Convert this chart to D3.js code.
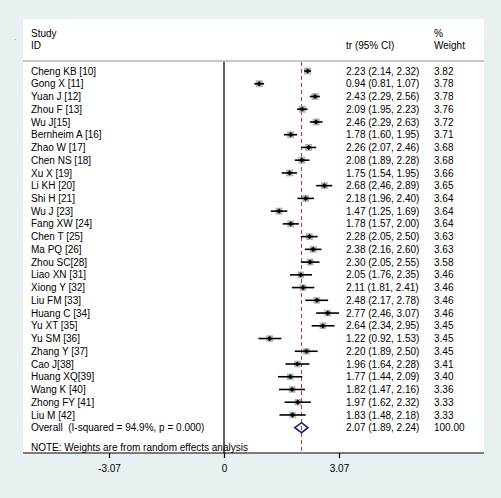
<!DOCTYPE html>
<html><head><meta charset="utf-8">
<script src="https://cdn.jsdelivr.net/npm/d3@7"></script>
<style>
html,body{margin:0;padding:0;background:#e9f0f2;}
svg{display:block;font-family:"Liberation Sans",Arial,sans-serif;}
</style></head>
<body>
<script>
const studies = ["Cheng KB [10]","Gong X [11]","Yuan J [12]","Zhou F [13]","Wu J[15]","Bernheim A [16]","Zhao W [17]","Chen NS [18]","Xu X [19]","Li KH [20]","Shi H [21]","Wu J [23]","Fang XW [24]","Chen T [25]","Ma PQ [26]","Zhou SC[28]","Liao XN [31]","Xiong Y [32]","Liu FM [33]","Huang C [34]","Yu XT [35]","Yu SM [36]","Zhang Y [37]","Cao J[38]","Huang XQ[39]","Wang K [40]","Zhong FY [41]","Liu M [42]"];
const est = [2.23,0.94,2.43,2.09,2.46,1.78,2.26,2.08,1.75,2.68,2.18,1.47,1.78,2.28,2.38,2.30,2.05,2.11,2.48,2.77,2.64,1.22,2.20,1.96,1.77,1.82,1.97,1.83];
const lower = [2.14,0.81,2.29,1.95,2.29,1.60,2.07,1.89,1.54,2.46,1.96,1.25,1.57,2.05,2.16,2.05,1.76,1.81,2.17,2.46,2.34,0.92,1.89,1.64,1.44,1.47,1.62,1.48];
const upper = [2.32,1.07,2.56,2.23,2.63,1.95,2.46,2.28,1.95,2.89,2.40,1.69,2.00,2.50,2.60,2.55,2.35,2.41,2.78,3.07,2.95,1.53,2.50,2.28,2.09,2.16,2.32,2.18];
const weights = ["3.82","3.78","3.78","3.76","3.72","3.71","3.68","3.68","3.66","3.65","3.64","3.64","3.64","3.63","3.63","3.58","3.46","3.46","3.46","3.46","3.45","3.45","3.45","3.41","3.40","3.36","3.33","3.33"];
const overall = {label:"Overall  (I-squared = 94.9%, p = 0.000)", est:2.07, lo:1.89, hi:2.24, weight:"100.00"};
const ticks = [-3.07, 0, 3.07];
const tickLabels = ["-3.07", "0", "3.07"];

(function(){
const W=501,H=498;
const svg=d3.select("body").append("svg").attr("width",W).attr("height",H);
const fs=10;
const x=d3.scaleLinear().domain([-3.07,3.07]).range([109,339]);
const y=d3.scaleLinear().domain([0,studies.length]).range([71,427.7]);
const pL=23,pR=484,pT=19,axisY=453;

svg.append("rect").attr("width",W).attr("height",H).attr("fill","#e9f0f2");
svg.append("rect").attr("x",pL).attr("y",pT).attr("width",pR-pL).attr("height",axisY-pT).attr("fill","#fff");
svg.append("text").attr("x",14).attr("y",40).attr("font-size",8).attr("fill","#777").text(".");

const hdr=svg.append("g").attr("font-size",fs).attr("fill","#000");
hdr.append("text").attr("x",31).attr("y",36.5).text("Study");
hdr.append("text").attr("x",31).attr("y",48.5).text("ID");
hdr.append("text").attr("x",346).attr("y",48.5).text("tr (95% CI)");
hdr.append("text").attr("x",434).attr("y",36.5).text("%");
hdr.append("text").attr("x",434).attr("y",48.5).text("Weight");
svg.append("line").attr("x1",pL).attr("x2",pR).attr("y1",61).attr("y2",61).attr("stroke","#c8c8c8").attr("stroke-width",2);

svg.append("line").attr("x1",x(0)).attr("x2",x(0)).attr("y1",62).attr("y2",axisY).attr("stroke","#000").attr("stroke-width",1.2);
svg.append("line").attr("x1",x(overall.est)).attr("x2",x(overall.est)).attr("y1",62).attr("y2",axisY).attr("stroke","#b03838").attr("stroke-width",1).attr("stroke-dasharray","4,3");

const rows=svg.append("g");
studies.forEach((s,i)=>{
  const yy=y(i);
  rows.append("text").attr("x",31).attr("y",yy+3.6).attr("font-size",fs).text(s);
  rows.append("text").attr("x",346).attr("y",yy+3.6).attr("font-size",fs).text(`${est[i].toFixed(2)} (${lower[i].toFixed(2)}, ${upper[i].toFixed(2)})`);
  rows.append("text").attr("x",434).attr("y",yy+3.6).attr("font-size",fs).text(weights[i]);
  const sz=Math.sqrt(+weights[i])*3.6;
  rows.append("rect").attr("x",x(est[i])-sz/2).attr("y",yy-sz/2).attr("width",sz).attr("height",sz).attr("fill","#b4b4b4");
  rows.append("line").attr("x1",x(lower[i])).attr("x2",x(upper[i])).attr("y1",yy).attr("y2",yy).attr("stroke","#000").attr("stroke-width",1.6);
  const d=2.6;
  rows.append("path").attr("d",`M${x(est[i])-d},${yy}L${x(est[i])},${yy-d}L${x(est[i])+d},${yy}L${x(est[i])},${yy+d}Z`).attr("fill","#000");
});
const oy=y(studies.length);
svg.append("text").attr("x",31).attr("y",oy+3.6).attr("font-size",fs).style("white-space","pre").text(overall.label);
svg.append("text").attr("x",346).attr("y",oy+3.6).attr("font-size",fs).text(`${overall.est.toFixed(2)} (${overall.lo.toFixed(2)}, ${overall.hi.toFixed(2)})`);
svg.append("text").attr("x",434).attr("y",oy+3.6).attr("font-size",fs).text(overall.weight);
svg.append("path").attr("d",`M${x(overall.lo)},${oy}L${x(overall.est)},${oy-5}L${x(overall.hi)},${oy}L${x(overall.est)},${oy+5}Z`).attr("fill","none").attr("stroke","#1a1a80").attr("stroke-width",1.6);

svg.append("text").attr("x",31).attr("y",450.5).attr("font-size",fs).text("NOTE: Weights are from random effects analysis");

svg.append("line").attr("x1",pL).attr("x2",pR).attr("y1",axisY).attr("y2",axisY).attr("stroke","#000").attr("stroke-width",1.2);
const axis=d3.axisBottom(x).tickValues(ticks).tickFormat((d,i)=>tickLabels[i]).tickSize(5).tickPadding(7);
const ag=svg.append("g").attr("transform",`translate(0,${axisY})`).call(axis);
ag.select(".domain").remove();
ag.selectAll("text").attr("font-size",fs).attr("font-family","Liberation Sans, Arial, sans-serif").attr("fill","#000");
ag.selectAll("line").attr("stroke","#000").attr("stroke-width",1.2);
})();
</script>
</body></html>
